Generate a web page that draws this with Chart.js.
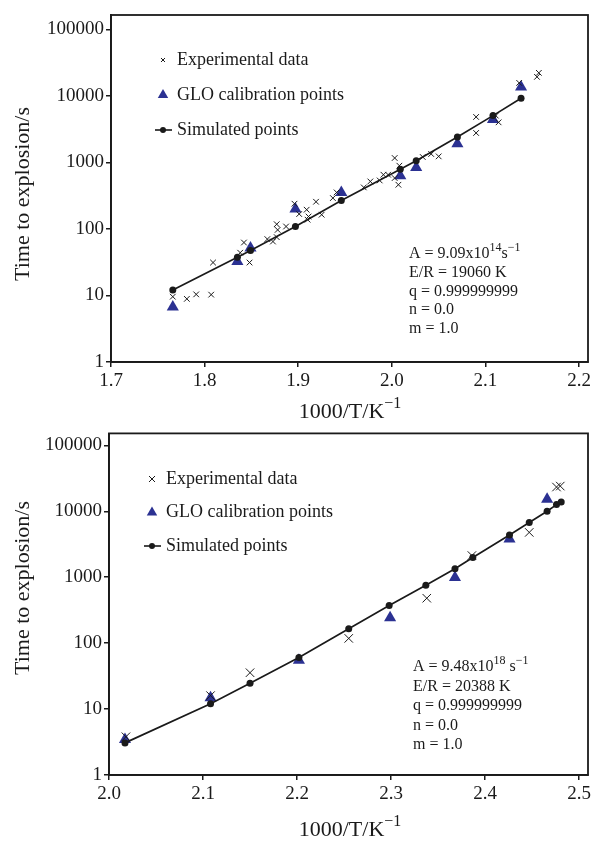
<!DOCTYPE html>
<html>
<head>
<meta charset="utf-8">
<script src="https://cdn.jsdelivr.net/npm/chart.js@4.4.0/dist/chart.umd.min.js"></script>
<style>
  html, body { margin: 0; padding: 0; background: #fff; }
  #wrap { position: relative; width: 595px; height: 841px; }
  canvas { position: absolute; left: 0; }
  #topChart { top: 0; }
  #bottomChart { top: 420px; }
</style>
</head>
<body>
<div id="wrap">
  <canvas id="topChart" width="595" height="420"></canvas>
  <canvas id="bottomChart" width="595" height="421"></canvas>
</div>
<script>
// ---- top panel (1000/T in K^-1, time to explosion in s) ----
const topExpX = [1.766, 1.781, 1.791, 1.807, 1.809, 1.838, 1.842, 1.848, 1.867, 1.873, 1.877, 1.878, 1.877, 1.887,
                 1.896, 1.901, 1.909, 1.911, 1.910, 1.919, 1.925, 1.937, 1.941, 1.970, 1.977, 1.987, 1.991, 1.996,
                 2.003, 2.003, 2.008, 2.007, 2.033, 2.042, 2.050, 2.090, 2.090, 2.111, 2.114, 2.136, 2.155, 2.157];
const topExpY = [9.6, 8.9, 10.4, 10.3, 31.3, 44, 62.6, 31.3, 70.5, 64.8, 118, 97, 75.5, 109,
                 240, 168, 195, 154, 138, 257, 164, 292, 355, 422, 519, 537, 655, 655,
                 1168, 584, 895, 463, 1210, 1343, 1236, 4843, 2781, 5070, 4018, 15740, 19400, 22300];
const topGloX = [1.766, 1.835, 1.849, 1.897, 1.946, 2.009, 2.026, 2.070, 2.108, 2.138];
const topGloY = [6.7, 32.4, 51.6, 200, 355, 633, 844, 1919, 4413, 13700];
const topSimX = [1.766, 1.835, 1.849, 1.897, 1.946, 2.009, 2.026, 2.070, 2.108, 2.138];
const topSimY = [12.1, 37.7, 47.5, 109, 269, 790, 1064, 2421, 5070, 9230];
const topXTicks = [1.7, 1.8, 1.9, 2.0, 2.1, 2.2];
const topParams = ['A = 9.09x10^{14}s^{\u22121}', 'E/R = 19060 K', 'q = 0.999999999', 'n = 0.0', 'm = 1.0'];

// ---- bottom panel ----
const botExpX = [2.018, 2.108, 2.150, 2.255, 2.338, 2.386, 2.447, 2.476, 2.480];
const botExpY = [3.8, 16, 35.6, 118, 480, 2130, 4780, 23300, 24100];
const botGloX = [2.017, 2.108, 2.202, 2.299, 2.368, 2.426, 2.466];
const botGloY = [3.45, 14.8, 55.2, 242, 993, 3800, 15200];
const botSimX = [2.017, 2.108, 2.150, 2.202, 2.255, 2.298, 2.337, 2.368, 2.387, 2.426, 2.447, 2.466, 2.476, 2.481];
const botSimY = [3.07, 12.0, 24.6, 60.5, 165, 372, 753, 1343, 1987, 4365, 6760, 10020, 12620, 13860];
const botXTicks = [2.0, 2.1, 2.2, 2.3, 2.4, 2.5];
const botParams = ['A = 9.48x10^{18} s^{\u22121}', 'E/R = 20388 K', 'q = 0.999999999', 'n = 0.0', 'm = 1.0'];

// ---- shared ----
const yTicks = [1, 10, 100, 1000, 10000, 100000];
const legendLabels = ['Experimental data', 'GLO calibration points', 'Simulated points'];
const yTitle = 'Time to explosion/s';
const xTitle = '1000/T/K^{\u22121}';

const SERIF = "'Liberation Serif', 'Times New Roman', serif";
const INK = '#1a1a1a';
const BLUE = '#2b3192';

function pts(xs, ys) {
  return xs.map((x, i) => ({ x: x, y: ys[i] }));
}

// text with ^{...} superscripts, y is the baseline
function drawRich(ctx, text, x, y, size, align) {
  const parts = text.split(/\^\{([^}]*)\}/);
  const supSize = Math.round(size * 0.72);
  let w = 0;
  parts.forEach((p, i) => {
    ctx.font = (i % 2 ? supSize : size) + 'px ' + SERIF;
    w += ctx.measureText(p).width;
  });
  let cx = align === 'center' ? x - w / 2 : x;
  ctx.textAlign = 'left';
  ctx.textBaseline = 'alphabetic';
  parts.forEach((p, i) => {
    const sup = i % 2 === 1;
    ctx.font = (sup ? supSize : size) + 'px ' + SERIF;
    ctx.fillText(p, cx, sup ? y - size * 0.45 : y);
    cx += ctx.measureText(p).width;
  });
}

const decor = {
  id: 'decor',
  afterDraw(chart, args, o) {
    const ctx = chart.ctx;
    const a = chart.chartArea;
    ctx.save();
    ctx.strokeStyle = INK;
    ctx.lineWidth = 1.8;
    ctx.strokeRect(a.left, a.top, a.right - a.left, a.bottom - a.top);
    ctx.fillStyle = INK;

    // y axis title
    ctx.save();
    ctx.translate(o.yTitleX, o.yTitleY);
    ctx.rotate(-Math.PI / 2);
    ctx.font = '22px ' + SERIF;
    ctx.textAlign = 'center';
    ctx.textBaseline = 'middle';
    ctx.fillText(yTitle, 0, 0);
    ctx.restore();

    // x axis title
    drawRich(ctx, xTitle, o.xTitleX, o.xTitleY, 22, 'center');

    // legend
    const L = o.legend;
    legendLabels.forEach((label, i) => {
      const ry = L.y + i * L.gap;
      ctx.strokeStyle = INK;
      ctx.fillStyle = INK;
      if (i === 0) {
        const c = L.cross;
        ctx.lineWidth = 1;
        ctx.beginPath();
        ctx.moveTo(L.x - c, ry - c); ctx.lineTo(L.x + c, ry + c);
        ctx.moveTo(L.x + c, ry - c); ctx.lineTo(L.x - c, ry + c);
        ctx.stroke();
      } else if (i === 1) {
        const r = 6;
        ctx.fillStyle = BLUE;
        ctx.beginPath();
        ctx.moveTo(L.x, ry - r);
        ctx.lineTo(L.x + r * 0.87, ry + r * 0.5);
        ctx.lineTo(L.x - r * 0.87, ry + r * 0.5);
        ctx.closePath();
        ctx.fill();
      } else {
        ctx.lineWidth = 1.6;
        ctx.beginPath();
        ctx.moveTo(L.x - 8, ry); ctx.lineTo(L.x + 9, ry);
        ctx.stroke();
        ctx.beginPath();
        ctx.arc(L.x, ry, 3, 0, Math.PI * 2);
        ctx.fill();
      }
      ctx.fillStyle = INK;
      ctx.font = '18px ' + SERIF;
      ctx.textAlign = 'left';
      ctx.textBaseline = 'middle';
      ctx.fillText(label, L.textX, ry);
    });

    // model parameters
    o.params.forEach((line, i) => {
      drawRich(ctx, line, o.paramX, o.paramY + i * o.paramGap, 16, 'left');
    });
    ctx.restore();
  }
};

function makeChart(id, d) {
  const ctx = document.getElementById(id).getContext('2d');
  return new Chart(ctx, {
    type: 'scatter',
    data: {
      datasets: [
        {
          label: legendLabels[2],
          data: pts(d.simX, d.simY),
          showLine: true,
          borderColor: INK,
          borderWidth: 1.7,
          pointRadius: 3.5,
          pointBackgroundColor: INK,
          pointBorderColor: INK,
          pointBorderWidth: 0
        },
        {
          label: legendLabels[0],
          data: pts(d.expX, d.expY),
          pointStyle: 'crossRot',
          pointRadius: d.crossR,
          borderColor: INK,
          borderWidth: 1
        },
        {
          label: legendLabels[1],
          data: pts(d.gloX, d.gloY),
          pointStyle: 'triangle',
          pointRadius: 7,
          backgroundColor: BLUE,
          borderColor: BLUE,
          borderWidth: 0
        }
      ]
    },
    options: {
      responsive: false,
      animation: false,
      devicePixelRatio: 1,
      layout: { padding: d.padding },
      plugins: {
        legend: { display: false },
        tooltip: { enabled: false },
        decor: d.decor
      },
      scales: {
        x: {
          type: 'linear',
          min: d.xMin,
          max: d.xMax,
          afterBuildTicks: s => { s.ticks = d.xTicks.map(v => ({ value: v })); },
          afterFit: s => { s.height = d.xHeight; },
          ticks: {
            callback: v => v.toFixed(1),
            font: { family: SERIF, size: 19 },
            color: INK,
            padding: 3,
            maxRotation: 0,
            autoSkip: false
          },
          grid: { drawOnChartArea: false, drawTicks: true, tickLength: 5, color: INK, lineWidth: 1.5 },
          border: { color: INK, width: 1.8 }
        },
        y: {
          type: 'logarithmic',
          min: 1,
          max: d.yMax,
          afterBuildTicks: s => { s.ticks = yTicks.map(v => ({ value: v })); },
          afterFit: s => { s.width = d.yWidth; },
          ticks: {
            callback: v => String(v),
            font: { family: SERIF, size: 19 },
            color: INK,
            padding: 2,
            autoSkip: false
          },
          grid: { drawOnChartArea: false, drawTicks: true, tickLength: 5, color: INK, lineWidth: 1.5 },
          border: { color: INK, width: 1.8 }
        }
      }
    },
    plugins: [decor]
  });
}

makeChart('topChart', {
  expX: topExpX, expY: topExpY, gloX: topGloX, gloY: topGloY, simX: topSimX, simY: topSimY,
  xTicks: topXTicks, xMin: 1.7, xMax: 2.2095, yMax: 165200,
  crossR: 4, padding: { top: 15, right: 6, left: 0, bottom: 0 }, yWidth: 111, xHeight: 58,
  decor: {
    yTitleX: 23, yTitleY: 194, xTitleX: 350, xTitleY: 418,
    legend: { x: 163, y: 60, gap: 35, textX: 177, cross: 2 },
    params: topParams, paramX: 409, paramY: 258, paramGap: 18.8
  }
});

makeChart('bottomChart', {
  expX: botExpX, expY: botExpY, gloX: botGloX, gloY: botGloY, simX: botSimX, simY: botSimY,
  xTicks: botXTicks, xMin: 2.0, xMax: 2.5095, yMax: 151700,
  crossR: 6, padding: { top: 11, right: 5, left: 0, bottom: 0 }, yWidth: 109, xHeight: 66,
  decor: {
    yTitleX: 23, yTitleY: 168, xTitleX: 350, xTitleY: 416,
    legend: { x: 152, y: 59, gap: 33.5, textX: 166, cross: 3 },
    params: botParams, paramX: 413, paramY: 251, paramGap: 19.5
  }
});
</script>
</body>
</html>
